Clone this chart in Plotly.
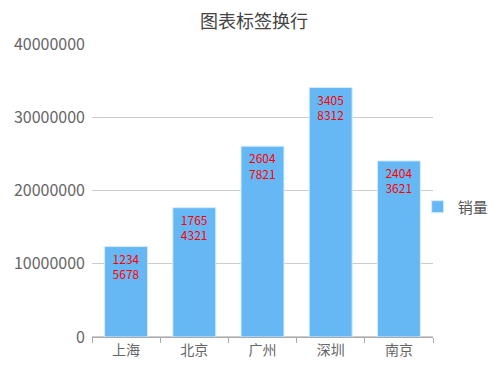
import plotly.graph_objects as go

categories = ["上海", "北京", "广州", "深圳", "南京"]
values = [12345678, 17654321, 26047821, 34058312, 24043621]
series_name = "销量"
title_text = "图表标签换行"

def wrap(v):
    s = str(v)
    return s[:4] + "<br>" + s[4:]

labels = [wrap(v) for v in values]

font_family = "Noto Sans CJK SC, Microsoft YaHei, sans-serif"

# The page body adds an 8px offset, so the figure is sized to fill the rest.
W, H = 492, 364

fig = go.Figure(
    go.Bar(
        x=categories,
        y=values,
        name=series_name,
        text=labels,
        textposition="inside",
        insidetextanchor="end",
        constraintext="none",
        textangle=0,
        textfont=dict(color="#ff0000", size=12, family=font_family),
        marker=dict(color="#66b8f5", line=dict(color="#d6ecfc", width=1)),
        width=0.63,
        showlegend=True,
        cliponaxis=False,
    )
)

fig.update_layout(
    width=W,
    height=H,
    margin=dict(l=84, r=67, t=36, b=35, autoexpand=False),
    paper_bgcolor="white",
    plot_bgcolor="white",
    font=dict(family=font_family, color="#666666", size=14),
    title=dict(text=title_text, x=0.5, xanchor="center", y=1 - 14 / H, yanchor="middle",
               font=dict(size=18, color="#444444", family=font_family)),
    showlegend=True,
    legend=dict(x=0.955, xanchor="left", y=0.444, yanchor="middle",
                font=dict(size=15, color="#555555"), bgcolor="rgba(0,0,0,0)",
                itemwidth=30),
    uniformtext=dict(mode=False),
)

fig.update_xaxes(
    showline=True, linecolor="#aaaaaa", linewidth=1,
    ticks="outside", tickson="boundaries", ticklen=5, tickcolor="#aaaaaa",
    showgrid=False, tickfont=dict(size=14, color="#666666"),
)
fig.update_yaxes(
    range=[0, 40000000], dtick=10000000, tickformat="d",
    showgrid=True, gridcolor="#cccccc", gridwidth=1,
    showline=False, zeroline=True, zerolinecolor="#cccccc",
    ticks="", ticklabelstandoff=6,
    tickfont=dict(size=16, color="#666666"),
)

fig.write_html("out.html")
